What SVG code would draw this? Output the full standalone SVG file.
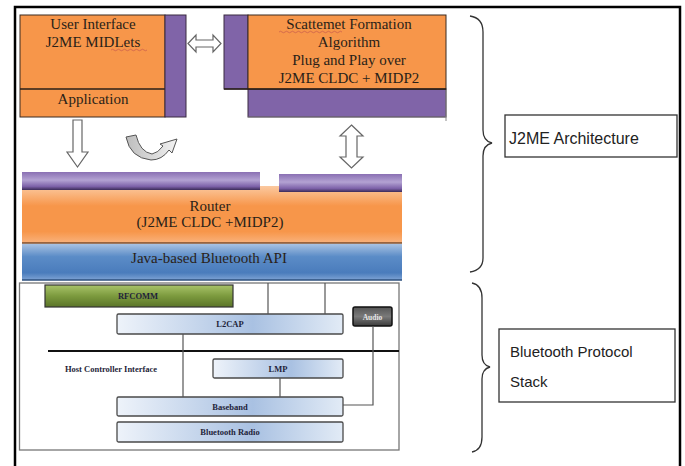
<svg xmlns="http://www.w3.org/2000/svg" width="685" height="466" viewBox="0 0 685 466">
<style>
.serif{font-family:"Liberation Serif","Times New Roman",serif;fill:#2a1f18;text-anchor:middle}
.t15{font-size:15px}
.small{font-family:"Liberation Serif","Times New Roman",serif;font-size:8.5px;font-weight:bold;fill:#1f1f3a;text-anchor:middle}
.lbl{font-family:"Liberation Sans",Arial,sans-serif;font-size:16px;fill:#222}
.orange{fill:#f7964a;stroke:#3a2a20;stroke-width:1}
.purple{fill:#8064a8;stroke:#3a2a40;stroke-width:1}
.hollow{fill:#fff;stroke:#666;stroke-width:1.2}
.stk{fill:url(#stackGrad);stroke:#4a4a4a;stroke-width:1.3}
.wire{stroke:#555;stroke-width:1.2;fill:none}
.brace{fill:none;stroke:#333;stroke-width:1.3}
.box{fill:#fff;stroke:#333;stroke-width:1.3}
</style>
<defs>
<linearGradient id="stackGrad" x1="0" y1="0" x2="1" y2="0">
<stop offset="0" stop-color="#eef3fa"/><stop offset="0.6" stop-color="#a9c1e2"/><stop offset="1" stop-color="#e2ebf6"/>
</linearGradient>
<linearGradient id="routerGrad" x1="0" y1="0" x2="0" y2="1">
<stop offset="0" stop-color="#fbc9a0"/><stop offset="0.35" stop-color="#f7964a"/><stop offset="0.8" stop-color="#f7964a"/><stop offset="1" stop-color="#f9b27c"/>
</linearGradient>
<linearGradient id="apiGrad" x1="0" y1="0" x2="0" y2="1">
<stop offset="0" stop-color="#a9c2e2"/><stop offset="0.35" stop-color="#5b8cc7"/><stop offset="0.8" stop-color="#4a7cbc"/><stop offset="1" stop-color="#7ea3d4"/>
</linearGradient>
<linearGradient id="barGrad" x1="0" y1="0" x2="0" y2="1">
<stop offset="0" stop-color="#8a70b3"/><stop offset="0.45" stop-color="#b3a2d2"/><stop offset="0.8" stop-color="#7d62a9"/><stop offset="1" stop-color="#3b2b58"/>
</linearGradient>
<linearGradient id="greenGrad" x1="0" y1="0" x2="0" y2="1">
<stop offset="0" stop-color="#a9c46a"/><stop offset="0.5" stop-color="#7c9a3e"/><stop offset="1" stop-color="#5a7428"/>
</linearGradient>
<linearGradient id="audioGrad" x1="0" y1="0" x2="0" y2="1">
<stop offset="0" stop-color="#555"/><stop offset="0.5" stop-color="#7a7a7a"/><stop offset="1" stop-color="#3a3a3a"/>
</linearGradient>
<linearGradient id="curveGrad" x1="0" y1="0" x2="1" y2="0">
<stop offset="0" stop-color="#bdbdbd"/><stop offset="1" stop-color="#f2f2f2"/>
</linearGradient>
</defs>

<!-- outer frame -->
<rect x="15" y="7" width="665" height="470" fill="#fff" stroke="#000" stroke-width="2.5"/>

<g id="ui-midlets">
<rect class="orange" x="20" y="15" width="145" height="102"/>
<line x1="20" y1="89" x2="165" y2="89" stroke="#2a1f18" stroke-width="1.3"/>
<rect class="purple" x="165" y="15" width="21" height="102"/>
<text class="serif t15" x="93" y="29">User Interface</text>
<text class="serif t15" x="93" y="47">J2ME MIDLets</text>
<path d="M111,50 q1.5,-1.5 3,0 t3,0 t3,0 t3,0 t3,0 t3,0 t3,0 t3,0 t3,0 t3,0 t3,0 t3,0" fill="none" stroke="#c0504d" stroke-width="0.6"/>
<text class="serif t15" x="93" y="104">Application</text>
</g>

<g id="scatternet">
<rect class="purple" x="224" y="15" width="24" height="74"/>
<rect class="purple" x="248" y="89" width="198" height="28" stroke="none"/>
<line x1="446" y1="89" x2="446" y2="121" stroke="#888" stroke-width="1"/>
<line x1="248" y1="117" x2="446" y2="117" stroke="#888" stroke-width="0.8"/>
<rect class="orange" x="248" y="15" width="198" height="74"/>
<line x1="224" y1="89" x2="446" y2="89" stroke="#2a1f18" stroke-width="1.3"/>
<text class="serif t15" x="349" y="29">Scattemet Formation</text>
<path d="M279,32 q1.5,-1.5 3,0 t3,0 t3,0 t3,0 t3,0 t3,0 t3,0 t3,0 t3,0 t3,0 t3,0 t3,0 t3,0 t3,0 t3,0 t3,0 t3,0 t3,0 t3,0 t3,0 t3,0" fill="none" stroke="#c0504d" stroke-width="0.6"/>
<text class="serif t15" x="349" y="47">Algorithm</text>
<text class="serif t15" x="349" y="65">Plug and Play over</text>
<text class="serif t15" x="349" y="83">J2ME CLDC + MIDP2</text>
</g>

<g id="router">
<rect x="22" y="186" width="380" height="57" fill="url(#routerGrad)"/>
<line x1="22" y1="243" x2="402" y2="243" stroke="#7a4a2a" stroke-width="1.5"/>
<rect x="22" y="172" width="238" height="18" fill="url(#barGrad)"/>
<rect x="279" y="174" width="123" height="18" fill="url(#barGrad)"/>
<text class="serif t15" x="210" y="211">Router</text>
<text class="serif t15" x="210" y="227">(J2ME CLDC +MIDP2)</text>
</g>

<g id="bluetooth-api">
<rect x="22" y="244" width="380" height="36" fill="url(#apiGrad)"/>
<line x1="22" y1="280" x2="402" y2="280" stroke="#2d4f7c" stroke-width="1.5"/>
<text class="serif t15" x="209" y="263">Java-based Bluetooth API</text>
</g>

<g id="protocol-stack">
<rect x="19.5" y="283" width="379.5" height="167" fill="#fff" stroke="#777" stroke-width="1.3"/>
<line x1="48" y1="351" x2="399" y2="351" stroke="#111" stroke-width="2"/>
<text class="small" x="111" y="372" font-weight="bold">Host Controller Interface</text>
</g>

<g id="rfcomm">
<rect x="45" y="285" width="188" height="22" fill="url(#greenGrad)" stroke="#333" stroke-width="1.2"/>
<text class="small" x="138" y="299">RFCOMM</text>
</g>

<g id="l2cap">
<rect class="stk" x="117" y="314" width="226" height="20" rx="1.5"/>
<text class="small" x="230" y="327">L2CAP</text>
</g>

<g id="audio">
<rect x="353" y="307" width="39" height="19" rx="2" fill="url(#audioGrad)" stroke="#111" stroke-width="1.5"/>
<text class="small" x="372.5" y="320" style="fill:#e8e8e8;font-size:7.5px">Audio</text>
</g>

<g id="lmp">
<rect class="stk" x="213" y="359" width="130" height="19" rx="1.5"/>
<text class="small" x="278" y="372">LMP</text>
</g>

<g id="baseband">
<rect class="stk" x="117" y="397" width="226" height="19" rx="1.5"/>
<text class="small" x="230" y="410">Baseband</text>
</g>

<g id="bluetooth-radio">
<rect class="stk" x="117" y="422" width="226" height="20" rx="1.5"/>
<text class="small" x="230" y="435">Bluetooth Radio</text>
</g>

<g id="connectors">
<path class="hollow" d="M188,43.5 L196,35 L196,40 L213,40 L213,35 L221,43.5 L213,52 L213,47 L196,47 L196,52 Z"/>
<path class="hollow" d="M73,120 L82,120 L82,152 L88,152 L77.5,167 L67,152 L73,152 Z"/>
<path class="hollow" d="M351.5,125 L363,136 L357,136 L357,157 L363,157 L351.5,168 L340,157 L346,157 L346,136 L340,136 Z"/>
<path d="M126,137 L136,135 Q140,152 152,154 Q158,153 163,146 L160,144 L177,139 L172,153 L169,150 Q162,160 151,160 Q130,158 126,137 Z" fill="url(#curveGrad)" stroke="#555" stroke-width="1"/>
<line class="wire" x1="268" y1="283" x2="268" y2="314"/>
<line class="wire" x1="325" y1="283" x2="325" y2="314"/>
<line class="wire" x1="183" y1="334" x2="183" y2="397"/>
<line class="wire" x1="280" y1="378" x2="280" y2="397"/>
<polyline class="wire" points="373,326 373,405 343,405"/>
</g>

<g id="j2me-architecture">
<path class="brace" d="M470,16 Q483,18 483,32 L483,130 Q483,141 492,143 Q483,145 483,156 L483,258 Q483,270 470,272"/>
<rect class="box" x="505" y="115" width="172" height="42"/>
<text class="lbl" x="509" y="144">J2ME Architecture</text>
</g>

<g id="bluetooth-protocol-stack">
<path class="brace" d="M472,283 Q482,285 482,298 L482,355 Q482,365 490,367 Q482,369 482,379 L482,437 Q482,450 472,452"/>
<rect class="box" x="499" y="329" width="176" height="73"/>
<text class="lbl" x="510" y="357" style="font-size:15px">Bluetooth Protocol</text>
<text class="lbl" x="510" y="387" style="font-size:15px">Stack</text>
</g>
</svg>
